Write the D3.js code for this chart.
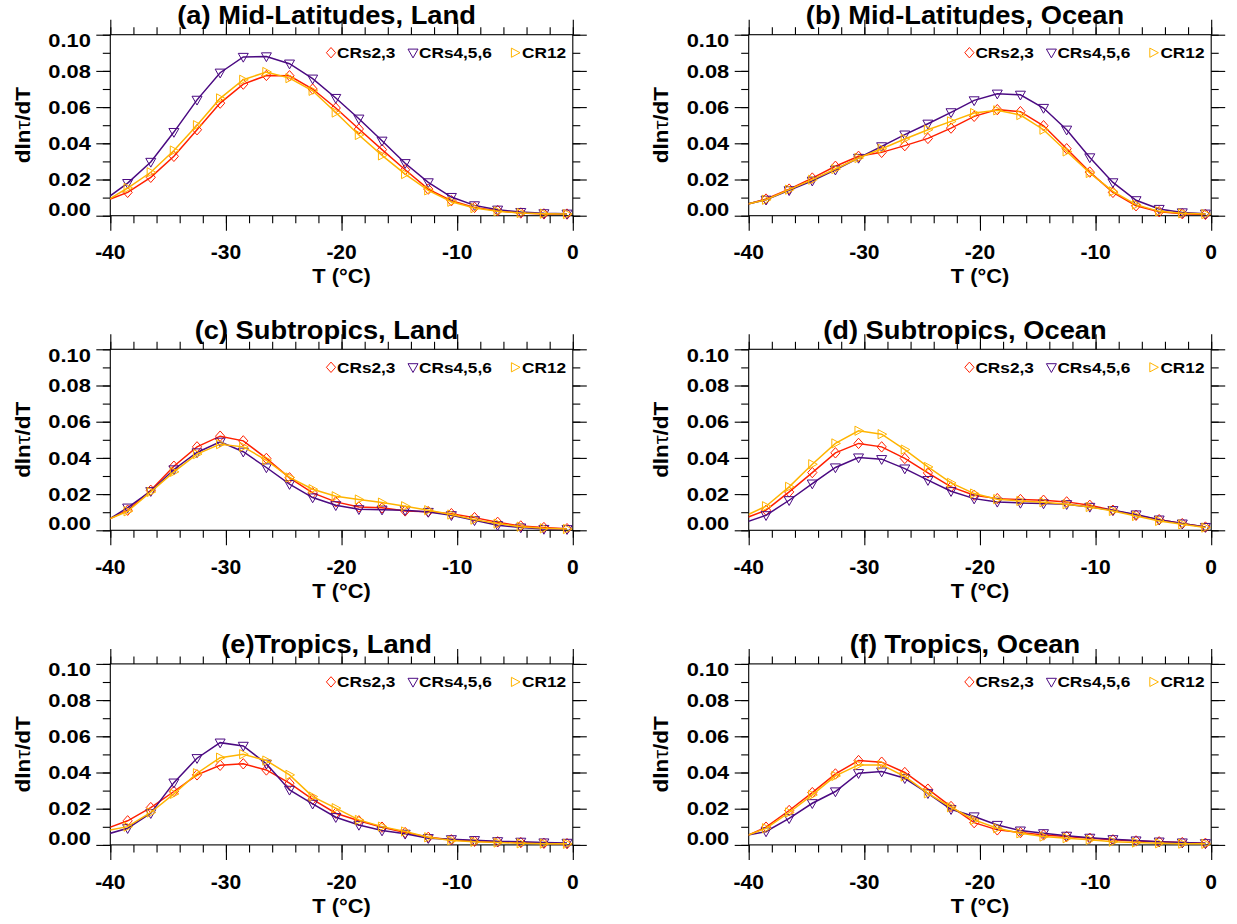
<!DOCTYPE html>
<html><head><meta charset="utf-8">
<script src="https://cdn.jsdelivr.net/npm/d3@7"></script>
<style>body{margin:0;background:#fff} svg{display:block}</style>
</head><body>
<svg id="chart" width="1237" height="924"></svg>
<script>
// ---------------- DATA ----------------
const temps = [-40.5, -38.5, -36.5, -34.5, -32.5, -30.5, -28.5, -26.5, -24.5, -22.5, -20.5,
               -18.5, -16.5, -14.5, -12.5, -10.5, -8.5, -6.5, -4.5, -2.5, -0.5];
const seriesNames = ["CRs2,3", "CRs4,5,6", "CR12"];
const panelTitles = ["(a) Mid-Latitudes, Land", "(b) Mid-Latitudes, Ocean",
                     "(c) Subtropics, Land", "(d) Subtropics, Ocean",
                     "(e)Tropics, Land", "(f) Tropics, Ocean"];
const xTickValues = [-40, -30, -20, -10, 0];
const xTickLabels = ["-40", "-30", "-20", "-10", "0"];
const yTickValues = [0, 0.02, 0.04, 0.06, 0.08, 0.10];
const yTickLabels = ["0.00", "0.02", "0.04", "0.06", "0.08", "0.10"];

const midLatLandCR23  = [0.0080,0.0129,0.0212,0.0328,0.0475,0.0622,0.0727,0.0775,0.0773,0.0700,0.0595,0.0479,0.0365,0.0254,0.0147,0.0083,0.0046,0.0028,0.0015,0.0010,0.0009];
const midLatLandCR456 = [0.0087,0.0180,0.0297,0.0462,0.0640,0.0790,0.0877,0.0880,0.0840,0.0757,0.0650,0.0536,0.0414,0.0290,0.0184,0.0103,0.0057,0.0033,0.0020,0.0013,0.0011];
const midLatLandCR12  = [0.0077,0.0153,0.0240,0.0360,0.0500,0.0648,0.0751,0.0794,0.0760,0.0690,0.0570,0.0446,0.0333,0.0230,0.0140,0.0077,0.0042,0.0024,0.0015,0.0011,0.0009];

const midLatOceanCR23  = [0.0057,0.0092,0.0147,0.0208,0.0273,0.0328,0.0350,0.0387,0.0427,0.0484,0.0549,0.0586,0.0575,0.0497,0.0370,0.0241,0.0129,0.0055,0.0022,0.0011,0.0007];
const midLatOceanCR456 = [0.0059,0.0088,0.0140,0.0193,0.0254,0.0319,0.0383,0.0448,0.0508,0.0571,0.0637,0.0674,0.0668,0.0595,0.0475,0.0322,0.0184,0.0085,0.0037,0.0018,0.0011];
const midLatOceanCR12  = [0.0059,0.0088,0.0144,0.0199,0.0258,0.0319,0.0370,0.0424,0.0475,0.0521,0.0567,0.0582,0.0556,0.0475,0.0355,0.0236,0.0134,0.0061,0.0024,0.0013,0.0009];

const subtropLandCR23  = [0.0050,0.0111,0.0221,0.0354,0.0461,0.0520,0.0494,0.0397,0.0290,0.0207,0.0157,0.0129,0.0124,0.0107,0.0103,0.0092,0.0070,0.0044,0.0024,0.0015,0.0009];
const subtropLandCR456 = [0.0045,0.0125,0.0216,0.0336,0.0430,0.0489,0.0434,0.0347,0.0255,0.0181,0.0138,0.0116,0.0114,0.0111,0.0101,0.0083,0.0055,0.0028,0.0015,0.0007,0.0006];
const subtropLandCR12  = [0.0052,0.0105,0.0212,0.0323,0.0421,0.0476,0.0461,0.0387,0.0292,0.0227,0.0188,0.0170,0.0153,0.0133,0.0111,0.0087,0.0059,0.0037,0.0020,0.0011,0.0007];

const subtropOceanCR23  = [0.0062,0.0111,0.0212,0.0319,0.0428,0.0480,0.0461,0.0397,0.0317,0.0240,0.0194,0.0175,0.0170,0.0166,0.0157,0.0138,0.0111,0.0083,0.0059,0.0037,0.0018];
const subtropOceanCR456 = [0.0039,0.0083,0.0166,0.0258,0.0347,0.0402,0.0393,0.0341,0.0277,0.0216,0.0175,0.0157,0.0151,0.0148,0.0144,0.0129,0.0111,0.0087,0.0059,0.0037,0.0018];
const subtropOceanCR12  = [0.0074,0.0133,0.0240,0.0365,0.0480,0.0550,0.0531,0.0446,0.0350,0.0262,0.0203,0.0172,0.0162,0.0155,0.0144,0.0129,0.0107,0.0079,0.0052,0.0033,0.0015];

const tropLandCR23  = [0.0086,0.0133,0.0206,0.0295,0.0387,0.0440,0.0448,0.0414,0.0341,0.0252,0.0175,0.0133,0.0098,0.0068,0.0042,0.0028,0.0020,0.0017,0.0013,0.0009,0.0007];
const tropLandCR456 = [0.0055,0.0092,0.0175,0.0344,0.0479,0.0565,0.0547,0.0448,0.0304,0.0227,0.0153,0.0110,0.0079,0.0061,0.0037,0.0031,0.0026,0.0020,0.0017,0.0013,0.0011];
const tropLandCR12  = [0.0077,0.0101,0.0179,0.0282,0.0396,0.0482,0.0501,0.0466,0.0387,0.0267,0.0203,0.0138,0.0101,0.0074,0.0042,0.0024,0.0017,0.0013,0.0009,0.0007,0.0006];

const tropOceanCR23  = [0.0041,0.0098,0.0190,0.0289,0.0392,0.0466,0.0457,0.0400,0.0308,0.0212,0.0123,0.0083,0.0068,0.0055,0.0046,0.0037,0.0028,0.0022,0.0017,0.0013,0.0009];
const tropOceanCR456 = [0.0049,0.0074,0.0147,0.0230,0.0295,0.0396,0.0405,0.0368,0.0285,0.0197,0.0157,0.0110,0.0079,0.0064,0.0050,0.0039,0.0031,0.0024,0.0018,0.0013,0.0009];
const tropOceanCR12  = [0.0043,0.0092,0.0179,0.0276,0.0381,0.0442,0.0442,0.0378,0.0285,0.0208,0.0138,0.0092,0.0064,0.0046,0.0037,0.0028,0.0018,0.0013,0.0009,0.0007,0.0006];

const panels = [
  [midLatLandCR23, midLatLandCR456, midLatLandCR12],
  [midLatOceanCR23, midLatOceanCR456, midLatOceanCR12],
  [subtropLandCR23, subtropLandCR456, subtropLandCR12],
  [subtropOceanCR23, subtropOceanCR456, subtropOceanCR12],
  [tropLandCR23, tropLandCR456, tropLandCR12],
  [tropOceanCR23, tropOceanCR456, tropOceanCR12]
];

// ---------------- STYLE / LAYOUT ----------------
const colors = ["#ff2000", "#4b0a82", "#ffb400"];
const markerPaths = [
  "M0,-5.2L4.6,0L0,5.2L-4.6,0Z",        // diamond
  "M-5,-3.6L5,-3.6L0,5.2Z",             // down triangle
  "M-3.6,-4.6L5,0L-3.6,4.6Z"            // right triangle
];
const colLeft = [110.3, 748.7];
const rowTop = [34.7, 349.3, 663.9];
const W = 462.5, H = 181;
const FONT = "'Liberation Sans', Arial, Helvetica, sans-serif";

const svg = d3.select("#chart");

function txt(g, x, y, s, size, sx, anchor, rot) {
  const t = g.append("text")
    .attr("transform", `translate(${x},${y})` + (rot ? ` rotate(${rot})` : "") + ` scale(${sx},1)`)
    .attr("font-family", FONT).attr("font-weight", "bold")
    .attr("font-size", size).attr("text-anchor", anchor).attr("fill", "#000");
  t.text(s);
  return t;
}

panels.forEach((series, pi) => {
  const left = colLeft[pi % 2], top = rowTop[Math.floor(pi / 2)];
  const x = d3.scaleLinear().domain([-40, 0]).range([left, left + W]);
  const y = d3.scaleLinear().domain([0, 0.1]).range([top + H, top]);
  const g = svg.append("g");

  const clipId = "clip" + pi;
  g.append("clipPath").attr("id", clipId).append("rect")
    .attr("x", left).attr("y", top - 10).attr("width", W).attr("height", H + 10);

  // axes (tick marks only)
  const minorX = d3.range(-40, 0.1, 2);
  const minorY = d3.range(0, 0.1001, 0.01);
  const styleAxis = sel => {
    sel.select(".domain").remove();
    sel.selectAll("line").attr("stroke", "#000").attr("stroke-width", 1.1);
    sel.selectAll("text").remove();
  };
  const axes = [
    [d3.axisLeft(y).tickValues(yTickValues).tickSize(14), left, 0],
    [d3.axisLeft(y).tickValues(minorY).tickSize(7.5), left, 0],
    [d3.axisRight(y).tickValues(yTickValues).tickSize(14), left + W, 0],
    [d3.axisRight(y).tickValues(minorY).tickSize(7.5), left + W, 0],
    [d3.axisTop(x).tickValues(xTickValues).tickSize(15), 0, top],
    [d3.axisTop(x).tickValues(minorX).tickSize(7.5), 0, top],
    [d3.axisBottom(x).tickValues(xTickValues).tickSize(15), 0, top + H],
    [d3.axisBottom(x).tickValues(minorX).tickSize(7.5), 0, top + H]
  ];
  axes.forEach(([ax, tx, ty]) => {
    g.append("g").attr("transform", `translate(${tx},${ty})`).call(ax.tickFormat(() => "")).call(styleAxis);
  });
  g.append("rect").attr("x", left).attr("y", top).attr("width", W).attr("height", H)
    .attr("fill", "none").attr("stroke", "#000").attr("stroke-width", 1.1);

  // series
  const line = d3.line().x((d, i) => x(temps[i])).y(d => y(d));
  series.forEach((vals, si) => {
    g.append("path").datum(vals).attr("d", line).attr("clip-path", `url(#${clipId})`)
      .attr("fill", "none").attr("stroke", colors[si]).attr("stroke-width", 1.5);
    g.selectAll(null).data(vals.map((v, i) => [temps[i], v]).filter(d => d[0] >= -40 && d[0] <= 0))
      .enter().append("path")
      .attr("d", markerPaths[si])
      .attr("transform", d => `translate(${x(d[0])},${y(d[1])})`)
      .attr("fill", "none").attr("stroke", colors[si]).attr("stroke-width", 1);
  });

  // y tick labels
  yTickValues.forEach((v, i) => {
    let by = y(v) + 6.7;
    if (i === yTickValues.length - 1) by = top + 12.3;
    if (i === 0) by = top + H;
    txt(g, left - 19.5, by, yTickLabels[i], 19, 1.15, "end");
  });
  // x tick labels
  xTickValues.forEach((v, i) => {
    txt(g, x(v), top + H + 43.6, xTickLabels[i], 21, 1.0, "middle");
  });
  // axis titles
  const cx = left + W / 2, cy = top + H / 2;
  txt(g, cx, top + H + 67.6, "T (°C)", 19.5, 1.12, "middle");
  const yl = txt(g, left - 80.5, cy, "", 19.5, 1.15, "middle", -90);
  yl.append("tspan").text("dln");
  yl.append("tspan").attr("font-weight", "normal").text("τ");
  yl.append("tspan").text("/dT");
  // title
  txt(g, cx - 15, top - 10.5, panelTitles[pi], 26.5, 1.03, "middle");

  // legend
  const legY = top + 18;
  const legMarkX = [220.7, 302.7, 404.7];
  const legTextX = [226.7, 308.7, 411.7];
  seriesNames.forEach((nm, si) => {
    g.append("path").attr("d", markerPaths[si])
      .attr("transform", `translate(${left + legMarkX[si]},${legY})`)
      .attr("fill", "none").attr("stroke", colors[si]).attr("stroke-width", 1);
    txt(g, left + legTextX[si], legY + 5.5, nm, 15.4, 1.12, "start");
  });
});
</script>
</body></html>
